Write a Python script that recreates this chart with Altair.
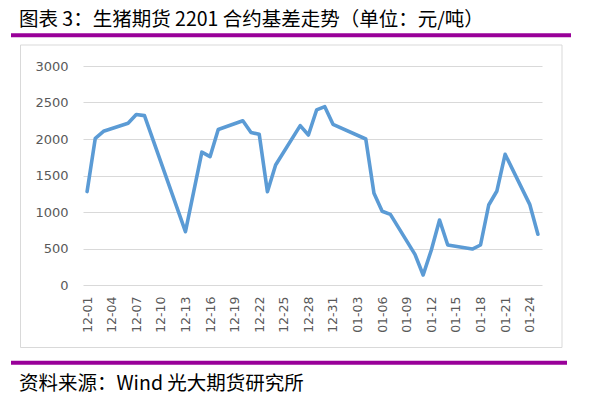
import altair as alt
import pandas as pd

# ---- data ----
dates = [
    "2021-12-01", "2021-12-02", "2021-12-03", "2021-12-06", "2021-12-07", "2021-12-08",
    "2021-12-13", "2021-12-15", "2021-12-16", "2021-12-17", "2021-12-20", "2021-12-21",
    "2021-12-22", "2021-12-23", "2021-12-24", "2021-12-27", "2021-12-28", "2021-12-29",
    "2021-12-30", "2021-12-31", "2022-01-04", "2022-01-05", "2022-01-06", "2022-01-07",
    "2022-01-10", "2022-01-11", "2022-01-12", "2022-01-13", "2022-01-14", "2022-01-17",
    "2022-01-18", "2022-01-19", "2022-01-20", "2022-01-21", "2022-01-24", "2022-01-25",
]
basis = [
    1280, 2010, 2105, 2215, 2335, 2320,
    730, 1820, 1758, 2130, 2250, 2090,
    2065, 1278, 1644, 2183, 2055, 2398,
    2443, 2201, 2000, 1256, 1010, 968,
    420, 137, 480, 890, 548, 493,
    548, 1096, 1288, 1790, 1105, 695,
]
tick_dates = [
    "2021-12-01", "2021-12-04", "2021-12-07", "2021-12-10", "2021-12-13", "2021-12-16",
    "2021-12-19", "2021-12-22", "2021-12-25", "2021-12-28", "2021-12-31", "2022-01-03",
    "2022-01-06", "2022-01-09", "2022-01-12", "2022-01-15", "2022-01-18", "2022-01-21",
    "2022-01-24",
]
y_ticks = [0, 500, 1000, 1500, 2000, 2500, 3000]

title_text = "图表 3：生猪期货 2201 合约基差走势（单位：元/吨）"
source_text = "资料来源：Wind 光大期货研究所"

# ---- helpers ----
def ms(s):
    return int(pd.Timestamp(s, tz="UTC").value // 10**6)

half_day = 12 * 3600 * 1000
x_domain = [ms(dates[0]) - half_day, ms(dates[-1]) + half_day]
tick_ms = [ms(d) for d in tick_dates]

df = pd.DataFrame({"date": dates, "basis": basis})

W, H = 459, 219
L, T = 83, 66

cjk = "Noto Sans CJK SC"
lab_font = "DejaVu Sans"
purple = "#990099"

line = alt.Chart(df).mark_line(
    color="#5B9BD5", strokeWidth=3.6, strokeJoin="round", strokeCap="round"
).encode(
    x=alt.X(
        "date:T",
        scale=alt.Scale(type="utc", domain=x_domain),
        axis=alt.Axis(
            values=tick_ms,
            labelExpr="utcFormat(datum.value, '%m-%d')",
            labelAngle=-90,
            labelFont=lab_font,
            labelFontSize=12.5,
            labelColor="#595959",
            labelPadding=11,
            ticks=False,
            tickSize=0,
            domain=False,
            grid=False,
            title=None,
            labelOverlap=False,
        ),
    ),
    y=alt.Y(
        "basis:Q",
        scale=alt.Scale(domain=[0, 3000], nice=False),
        axis=alt.Axis(
            values=y_ticks,
            format="d",
            labelFont=lab_font,
            labelFontSize=13,
            labelColor="#595959",
            labelPadding=15,
            ticks=False,
            tickSize=0,
            domain=False,
            grid=True,
            gridColor="#D9D9D9",
            gridWidth=1,
            title=None,
        ),
    ),
)

one = alt.Data(values=[{}])

box = alt.Chart(one).mark_rect(
    fillOpacity=0, stroke="#D9D9D9", strokeWidth=1
).encode(
    x=alt.value(20.5 - L), x2=alt.value(562 - L),
    y=alt.value(45 - T), y2=alt.value(347.5 - T),
)

top_rule = alt.Chart(one).mark_rule(color=purple, strokeWidth=4).encode(
    x=alt.value(11 - L), x2=alt.value(571 - L), y=alt.value(35.3 - T)
)
bottom_rule = alt.Chart(one).mark_rule(color=purple, strokeWidth=4).encode(
    x=alt.value(11 - L), x2=alt.value(567 - L), y=alt.value(362.7 - T)
)

title = alt.Chart(one).mark_text(
    align="left", baseline="middle", font=cjk, fontSize=19.5, color="#000000"
).encode(x=alt.value(19 - L), y=alt.value(20 - T), text=alt.value(title_text))

source = alt.Chart(one).mark_text(
    align="left", baseline="middle", font=cjk, fontSize=19.5, color="#000000"
).encode(x=alt.value(19 - L), y=alt.value(384 - T), text=alt.value(source_text))

chart = alt.layer(box, line, top_rule, bottom_rule, title, source).properties(
    width=W,
    height=H,
    autosize=alt.AutoSizeParams(type="none"),
    padding={"left": L, "top": T, "right": 614 - L - W, "bottom": 407 - T - H},
    background="white",
).configure_view(stroke=None)

chart.save("out.html", embed_options={"renderer": "svg", "actions": False})
